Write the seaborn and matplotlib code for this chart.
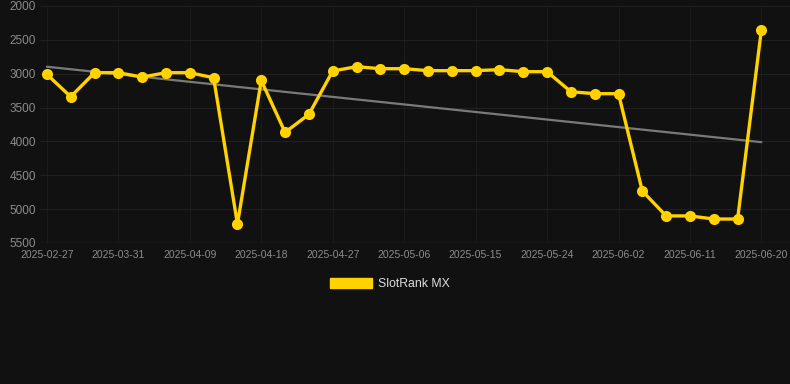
import numpy as np
import pandas as pd
import matplotlib
matplotlib.use("Agg")
import matplotlib.pyplot as plt
import seaborn as sns
from matplotlib.patches import Patch

dates = ["2025-02-27", "2025-03-25", "2025-03-28", "2025-03-31", "2025-04-03",
         "2025-04-06", "2025-04-09", "2025-04-12", "2025-04-15", "2025-04-18",
         "2025-04-21", "2025-04-24", "2025-04-27", "2025-04-30", "2025-05-03",
         "2025-05-06", "2025-05-09", "2025-05-12", "2025-05-15", "2025-05-18",
         "2025-05-21", "2025-05-24", "2025-05-27", "2025-05-30", "2025-06-02",
         "2025-06-05", "2025-06-08", "2025-06-11", "2025-06-14", "2025-06-17",
         "2025-06-20"]
ranks = [3010, 3340, 2985, 2985, 3050, 2985, 2985, 3060, 5220, 3100,
         3866, 3600, 2960, 2896, 2926, 2926, 2955, 2955, 2955, 2940,
         2970, 2970, 3266, 3295, 3295, 4733, 5100, 5100, 5146, 5146,
         2350]
series_name = "SlotRank MX"
y_ticks = [2000, 2500, 3000, 3500, 4000, 4500, 5000, 5500]

bg = "#111111"
gold = "#FFD200"

sns.set_theme(style="dark")
plt.rcParams["font.family"] = ["Liberation Sans", "DejaVu Sans"]

df = pd.DataFrame({"idx": np.arange(len(dates)), "date": dates, "rank": ranks})

fig = plt.figure(figsize=(7.9, 3.84), dpi=100, facecolor=bg)
ax = fig.add_axes([40 / 790, 1 - 243 / 384, 750 / 790, 237 / 384])
ax.set_facecolor(bg)

# trend line (linear fit of the series)
coef = np.polyfit(df["idx"], df["rank"], 1)
df["trend"] = np.polyval(coef, df["idx"])
sns.lineplot(data=df, x="idx", y="trend", ax=ax, color="#7a7a7a", linewidth=1.6, zorder=2)

sns.lineplot(data=df, x="idx", y="rank", ax=ax, color=gold, linewidth=2.4,
             marker="o", markersize=8, markeredgewidth=0, zorder=3)

ax.set_ylim(5500, 2000)
ax.set_xlim(-0.29, 31.2)
ax.set_yticks(y_ticks)
ax.set_yticklabels([str(v) for v in y_ticks])
tick_idx = list(range(0, len(dates), 3))
ax.set_xticks(tick_idx)
ax.set_xticklabels([dates[i] for i in tick_idx])
ax.tick_params(axis="y", colors="#8c8c8c", labelsize=8.5, length=0, pad=3)
ax.tick_params(axis="x", colors="#8c8c8c", labelsize=7.5, length=0, pad=5)
ax.grid(True, axis="y", color="#202020", linewidth=0.8)
ax.grid(True, axis="x", color="#1a1a1a", linewidth=0.8)
ax.set_xlabel("")
ax.set_ylabel("")
for s in ax.spines.values():
    s.set_visible(False)
ax.axhline(5500, color="#2a2a2a", linewidth=1, zorder=1)

leg = fig.legend(handles=[Patch(facecolor=gold, edgecolor=gold, label=series_name)],
                 loc="center", bbox_to_anchor=(390 / 790, 1 - 284 / 384),
                 frameon=False, fontsize=8.8, handlelength=3.4, handleheight=0.95,
                 handletextpad=0.5)
for t in leg.get_texts():
    t.set_color("#dddddd")

fig.savefig("out.png", dpi=100, facecolor=bg)
